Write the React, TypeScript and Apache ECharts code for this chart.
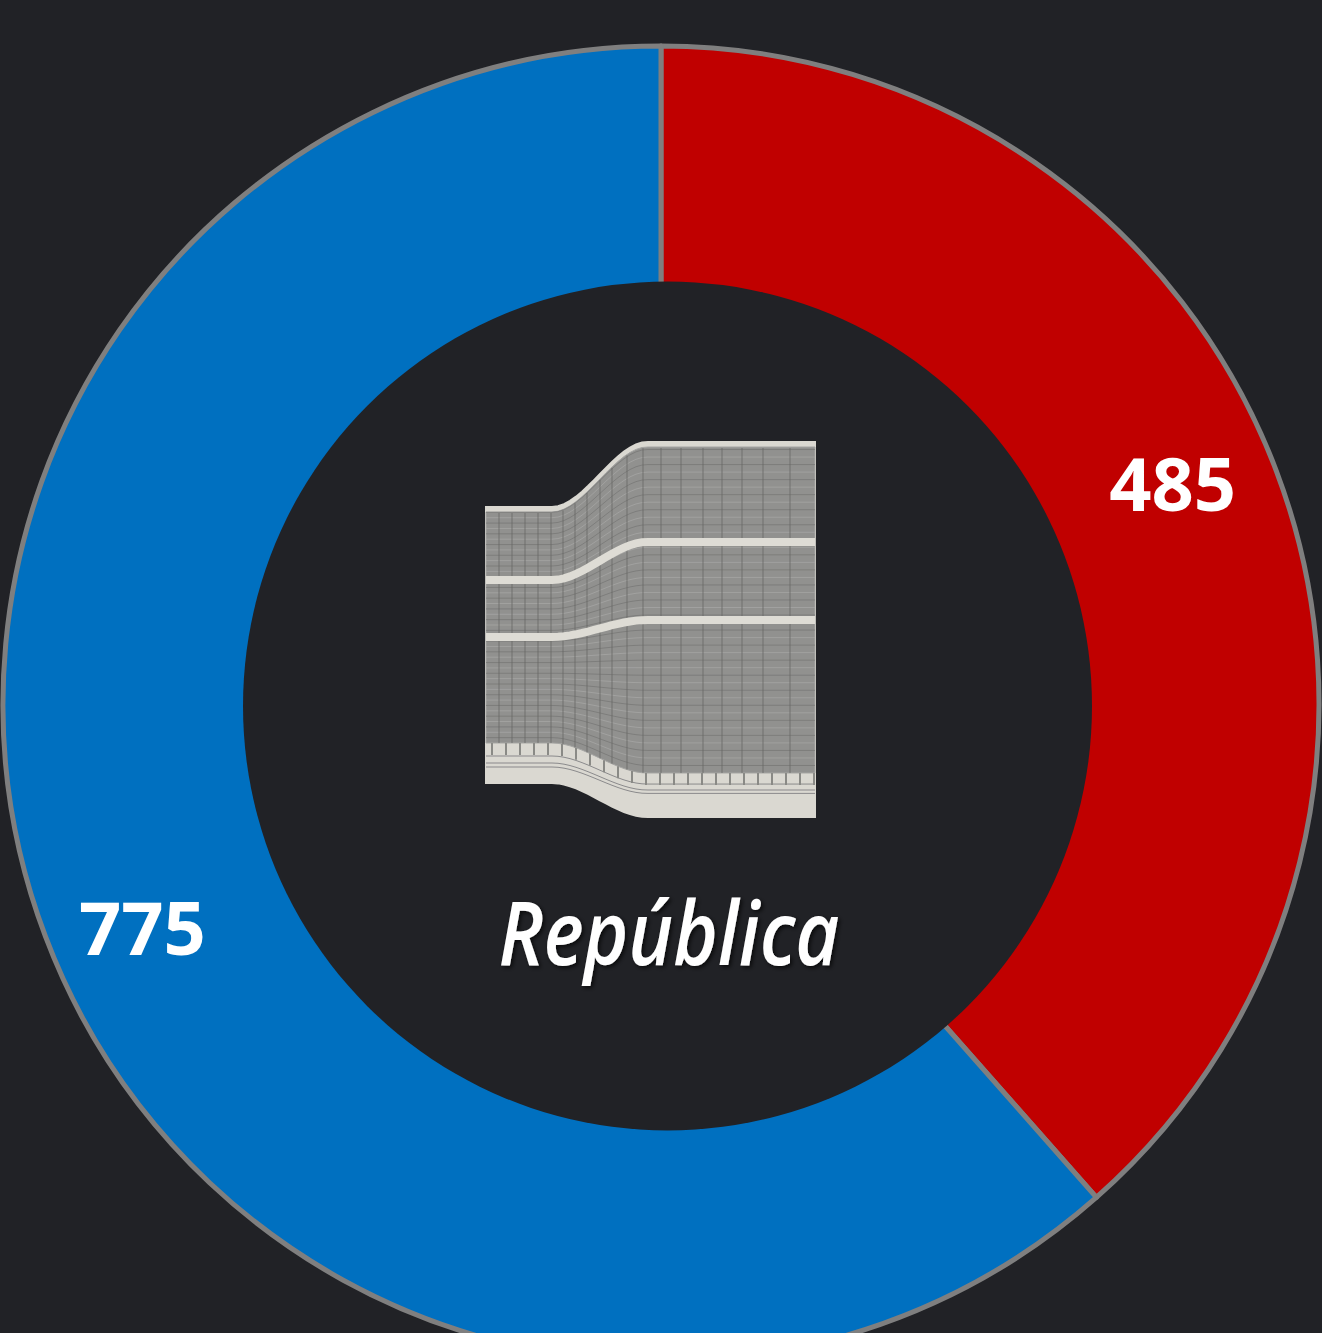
import React, { useEffect, useRef } from "react";
import * as echarts from "echarts";

const categories = ["Direita", "Esquerda"];
const seriesValues = [485, 775];
const centerTitle = "República";

const BG = "#212226";
const LIGHT = "#dad8d1";
const GREY = "#91918f";

// left and right heights of the building's layers, either side of the bend
const levelsLeft = [507, 580, 637, 743, 783];
const levelsRight = [442, 542, 620, 773, 817];
const xStart = 486;
const xEnd = 815;

function bend(x: number) {
  const t = Math.min(1, Math.max(0, (x - 552) / 95));
  return t * t * (3 - 2 * t);
}
function layerY(x: number, leftY: number, rightY: number) {
  return leftY + (rightY - leftY) * bend(x);
}
function curve(leftY: number, rightY: number, reverse = false) {
  const pts: number[][] = [];
  for (let x = xStart; x <= xEnd; x += 6) pts.push([x, layerY(x, leftY, rightY)]);
  pts.push([xEnd, rightY]);
  return reverse ? pts.reverse() : pts;
}
function buildingChildren() {
  const out: any[] = [];
  const top = [levelsLeft[0], levelsRight[0]];
  const bottom = [levelsLeft[4], levelsRight[4]];
  const greyBottom = [levelsLeft[3], levelsRight[3]];
  out.push({
    type: "polygon",
    shape: { points: [...curve(top[0], top[1]), ...curve(bottom[0], bottom[1], true)] },
    style: { fill: LIGHT, stroke: LIGHT, lineWidth: 2 },
  });
  out.push({
    type: "polygon",
    shape: { points: [...curve(top[0] + 5, top[1] + 5), ...curve(greyBottom[0], greyBottom[1], true)] },
    style: { fill: GREY, stroke: "#a5a5a3", lineWidth: 1 },
  });
  // floors
  const floors = 44;
  for (let i = 1; i < floors; i++) {
    const f = i / floors;
    const l = top[0] + (greyBottom[0] - top[0]) * f;
    const r = top[1] + (greyBottom[1] - top[1]) * f;
    out.push({
      type: "polyline",
      shape: { points: curve(l, r) },
      style: { fill: "none", stroke: i % 2 ? "#757573" : "#a8a8a6", lineWidth: 1, opacity: 0.7 },
    });
  }
  // columns
  const columns = [499, 512, 525, 538, 551, 563, 575, 587, 600, 612, 627, 643, 661, 681, 703, 722, 742, 763, 790];
  columns.forEach((x) => {
    out.push({
      type: "line",
      shape: { x1: x, y1: layerY(x, top[0], top[1]) + 6, x2: x, y2: layerY(x, greyBottom[0], greyBottom[1]) },
      style: { stroke: "#666664", lineWidth: 1, opacity: 0.8 },
    });
  });
  // pale bands
  [1, 2].forEach((i) => {
    out.push({
      type: "polyline",
      shape: { points: curve(levelsLeft[i], levelsRight[i]) },
      style: { fill: "none", stroke: "#dedcd5", lineWidth: 8 },
    });
  });
  // window row and plinth lines
  [13, 20, 24].forEach((d) => {
    out.push({
      type: "polyline",
      shape: { points: curve(greyBottom[0] + d, greyBottom[1] + d * 0.85) },
      style: { fill: "none", stroke: "#77777a", lineWidth: 1, opacity: 0.8 },
    });
  });
  for (let x = xStart + 6; x < xEnd; x += 14) {
    const y = layerY(x, greyBottom[0], greyBottom[1]);
    out.push({
      type: "line",
      shape: { x1: x, y1: y, x2: x, y2: y + 12 },
      style: { stroke: "#8a8a86", lineWidth: 2 },
    });
  }
  return out.map((el) => ({ ...el, z: 11 }));
}

export default function App() {
  const ref = useRef<HTMLDivElement>(null);
  useEffect(() => {
    document.body.style.margin = "0";
    document.body.style.background = BG;
    const chart = echarts.init(ref.current!, undefined, { renderer: "svg" });
    const sliceColors = ["#c00000", "#0070c0"];
    const labelOffsets = [[14, -33], [-21, 34]];
    chart.setOption({
      animation: false,
      backgroundColor: BG,
      series: [
        {
          type: "pie",
          center: [661, 704],
          radius: [400, 658],
          startAngle: 90,
          clockwise: true,
          silent: true,
          itemStyle: { borderColor: "#7f7f7f", borderWidth: 5 },
          labelLine: { show: false },
          data: categories.map((name, i) => ({
            name,
            value: seriesValues[i],
            itemStyle: { color: sliceColors[i] },
            label: {
              show: true,
              position: "inside",
              formatter: "{c}",
              offset: labelOffsets[i],
              color: "#ffffff",
              fontFamily: "Open Sans",
              fontWeight: 700,
              fontSize: 74,
            },
          })),
        },
      ],
      graphic: [
        {
          type: "circle",
          z: 10,
          shape: { cx: 667.5, cy: 706, r: 424.5 },
          style: { fill: BG },
        },
        { type: "group", children: buildingChildren() },
        {
          type: "text",
          z: 12,
          x: 669,
          y: 931,
          scaleX: 0.865,
          style: {
            text: centerTitle,
            fill: "#ffffff",
            font: "italic 600 88px 'Open Sans'",
            textAlign: "center",
            textVerticalAlign: "middle",
            textShadowColor: "rgba(0,0,0,0.7)",
            textShadowBlur: 4,
            textShadowOffsetX: 2,
            textShadowOffsetY: 2,
          },
        },
      ],
    });
    return () => chart.dispose();
  }, []);
  return (
    <div
      ref={ref}
      style={{ position: "absolute", left: 0, top: 0, width: 1322, height: 1333, overflow: "hidden" }}
    />
  );
}
